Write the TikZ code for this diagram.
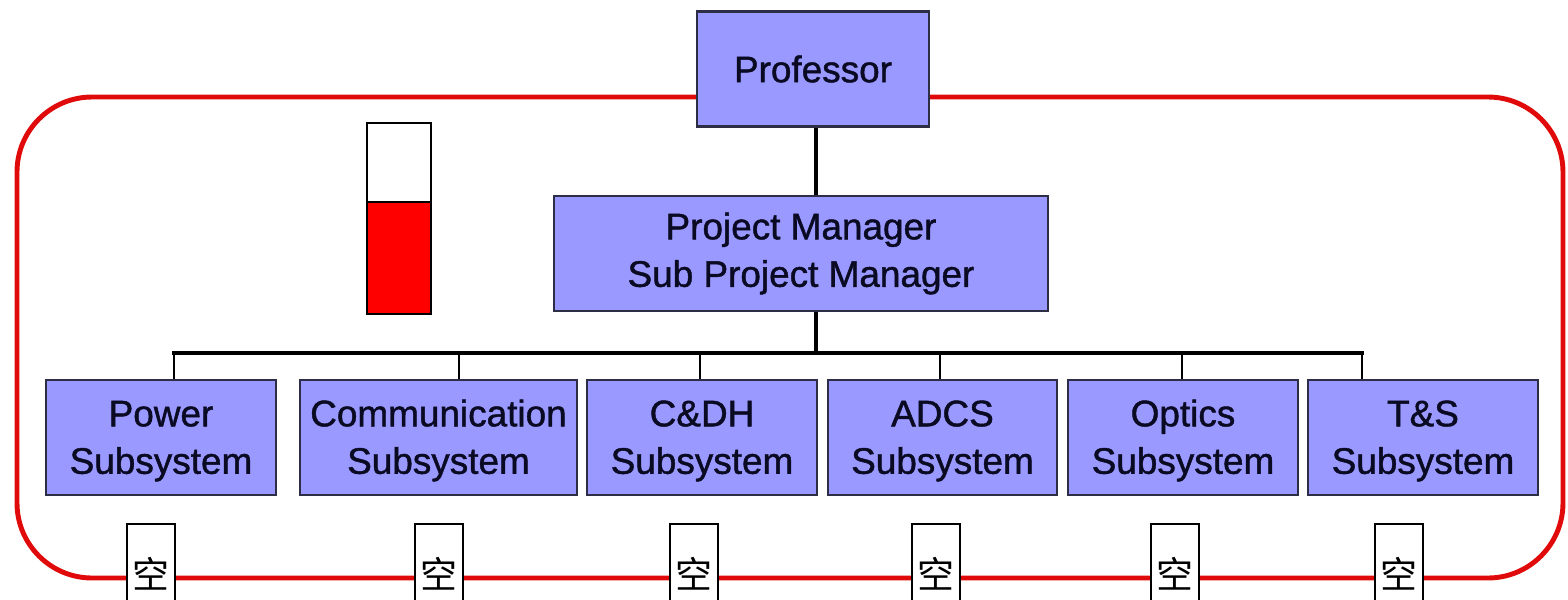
\documentclass[tikz,border=0pt]{standalone}
\usepackage{fontspec}
\setmainfont{Liberation Sans}
\newfontfamily\rolefont{Liberation Sans}[FakeBold=1.2]
\newfontfamily\cjk{Noto Sans CJK SC}
\definecolor{boxblue}{RGB}{153,153,255}
\definecolor{boxline}{RGB}{45,45,70}
\definecolor{teamred}{RGB}{225,10,10}
\definecolor{roletext}{RGB}{10,10,35}

\begin{document}
\begin{tikzpicture}
[x=0.01cm,y=-0.01cm,
role/.style={rectangle,draw=boxline,line width=0.6pt,fill=boxblue,align=center,inner sep=0pt,minimum height=1.15cm,font=\rolefont\fontsize{10.5}{13.5}\selectfont,text=roletext},
tag/.style={rectangle,draw=black,line width=0.6pt,fill=white,anchor=north,minimum width=0.48cm,minimum height=1cm,inner sep=0pt,font=\cjk\fontsize{10.5}{11}\selectfont},
link/.style={line width=1.4pt}]
\useasboundingbox (0,0) rectangle (1568,599);
%team frame
\draw[teamred,line width=1.4pt,rounded corners=0.75cm] (17,97) rectangle (1563,578);
%gauge
\draw[line width=0.6pt,fill=white] (367,123) rectangle (431,202);
\draw[line width=0.6pt,fill=red] (367,202) rectangle (431,314);
%heads
\node[role,minimum width=2.32cm] (prof) at (813,69) {Professor};
\node[role,minimum width=4.94cm] (pm) at (801,253.5) {Project Manager\\Sub Project Manager};
\coordinate (bus) at (816,353);
\draw[link] (prof.south -| bus) -- (pm.north -| bus);
\draw[link] (pm.south -| bus) -- (bus);
%subsystems
\foreach \i/\x/\cx/\w/\lbl/\g in {1/161/174/2.30/Power/151,2/438.5/459/2.77/Communication/439,3/702/700/2.30/C\&DH/694,4/942.5/940/2.29/ADCS/936,5/1183/1182/2.30/Optics/1175,6/1423/1362/2.30/T\&S/1399}
{
	\node[role,minimum width=\w cm] (s\i) at (\x,437.5) {\rule{0pt}{9.3pt}\lbl\\Subsystem};
	\coordinate (t\i) at (\cx,353);
	\draw[line width=0.85pt] (t\i) -- (t\i |- s\i.north);
	\node[tag] (k\i) at (\g,523) {空};
}
\draw[link,line cap=rect] (t1) -- (t6);
\end{tikzpicture}
\end{document}
